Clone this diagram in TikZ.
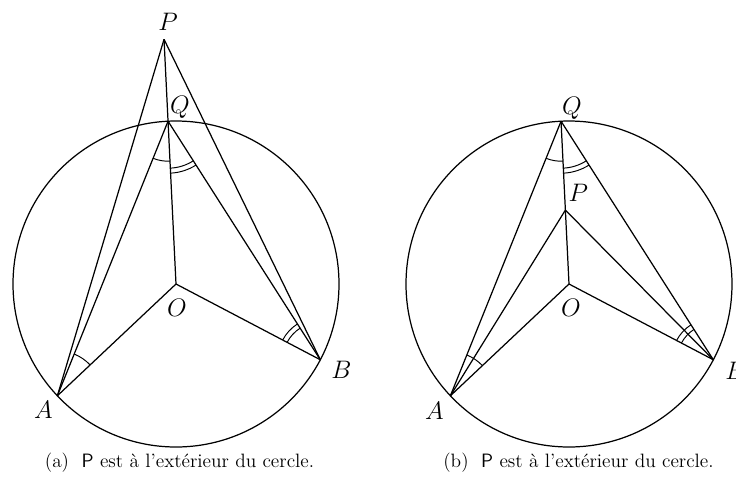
\documentclass[tikz,border=0pt]{standalone}
\usepackage{tikz}
\usetikzlibrary{angles,calc}
\begin{document}
\begin{tikzpicture}[
 seg/.style={draw=black,line width=.7pt},
 anglemark/.style={draw=black,line width=.55pt},
 lbl/.style={font=\Large},
 captext/.style={font=\fontsize{11}{13}\selectfont}]
\useasboundingbox (-3.52,-3.98) rectangle (11.2,5.68);
% (a) P outside the circle
\coordinate (Oa) at (0,0);
\coordinate (Aa) at (223.3:3.26);\coordinate (Ba) at (332.3:3.26);
\coordinate (Qa) at (92.8:3.26);\coordinate (Pa) at (92.8:4.9);
\draw[seg] (Oa) circle (3.26);
\draw[seg] (Pa)--(Aa);\draw[seg] (Pa)--(Ba);\draw[seg] (Pa)--(Oa);
\draw[seg] (Qa)--(Aa);\draw[seg] (Qa)--(Ba);
\draw[seg] (Oa)--(Aa);\draw[seg] (Oa)--(Ba);
\pic[anglemark,angle radius=.9cm] {angle=Oa--Aa--Qa};
\pic[anglemark,angle radius=.8cm] {angle=Aa--Qa--Oa};
\pic[anglemark,angle radius=.94cm] {angle=Oa--Qa--Ba};\pic[anglemark,angle radius=1.04cm] {angle=Oa--Qa--Ba};
\pic[anglemark,angle radius=.75cm] {angle=Qa--Ba--Oa};\pic[anglemark,angle radius=.85cm] {angle=Qa--Ba--Oa};
\node[lbl] (lPa) at ($(Pa)+(.08,.34)$) {$P$};
\node[lbl] (lQa) at ($(Qa)+(.24,.28)$) {$Q$};
\node[lbl] (lOa) at ($(Oa)+(.02,-.48)$) {$O$};
\node[lbl] (lAa) at ($(Aa)+(-.28,-.28)$) {$A$};
\node[lbl] (lBa) at ($(Ba)+(.42,-.2)$) {$B$};
\node[captext] (capa) at (.07,-3.58) {(a)\ \ \textsf{P} est à l'extérieur du cercle.};
% (b) P inside the circle
\coordinate (Ob) at (7.86,0);
\coordinate (Ab) at ($(Ob)+(223.3:3.26)$);\coordinate (Bb) at ($(Ob)+(332.3:3.26)$);
\coordinate (Qb) at ($(Ob)+(92.8:3.26)$);\coordinate (Pb) at ($(Ob)+(92.8:1.48)$);
\draw[seg] (Ob) circle (3.26);
\draw[seg] (Qb)--(Ob);
\draw[seg] (Qb)--(Ab);\draw[seg] (Qb)--(Bb);
\draw[seg] (Pb)--(Ab);\draw[seg] (Pb)--(Bb);
\draw[seg] (Ob)--(Ab);\draw[seg] (Ob)--(Bb);
\pic[anglemark,angle radius=.88cm] {angle=Ob--Ab--Qb};
\pic[anglemark,angle radius=.8cm] {angle=Ab--Qb--Ob};
\pic[anglemark,angle radius=.94cm] {angle=Ob--Qb--Bb};\pic[anglemark,angle radius=1.04cm] {angle=Ob--Qb--Bb};
\pic[anglemark,angle radius=.72cm] {angle=Qb--Bb--Ob};\pic[anglemark,angle radius=.83cm] {angle=Qb--Bb--Ob};
\node[lbl] (lPb) at ($(Pb)+(.26,.34)$) {$P$};
\node[lbl] (lQb) at ($(Qb)+(.22,.26)$) {$Q$};
\node[lbl] (lOb) at ($(Ob)+(.04,-.48)$) {$O$};
\node[lbl] (lAb) at ($(Ab)+(-.32,-.3)$) {$A$};
\node[lbl] (lBb) at ($(Bb)+(.44,-.22)$) {$B$};
\node[captext] (capb) at (8.05,-3.58) {(b)\ \ \textsf{P} est à l'extérieur du cercle.};
\end{tikzpicture}
\end{document}
